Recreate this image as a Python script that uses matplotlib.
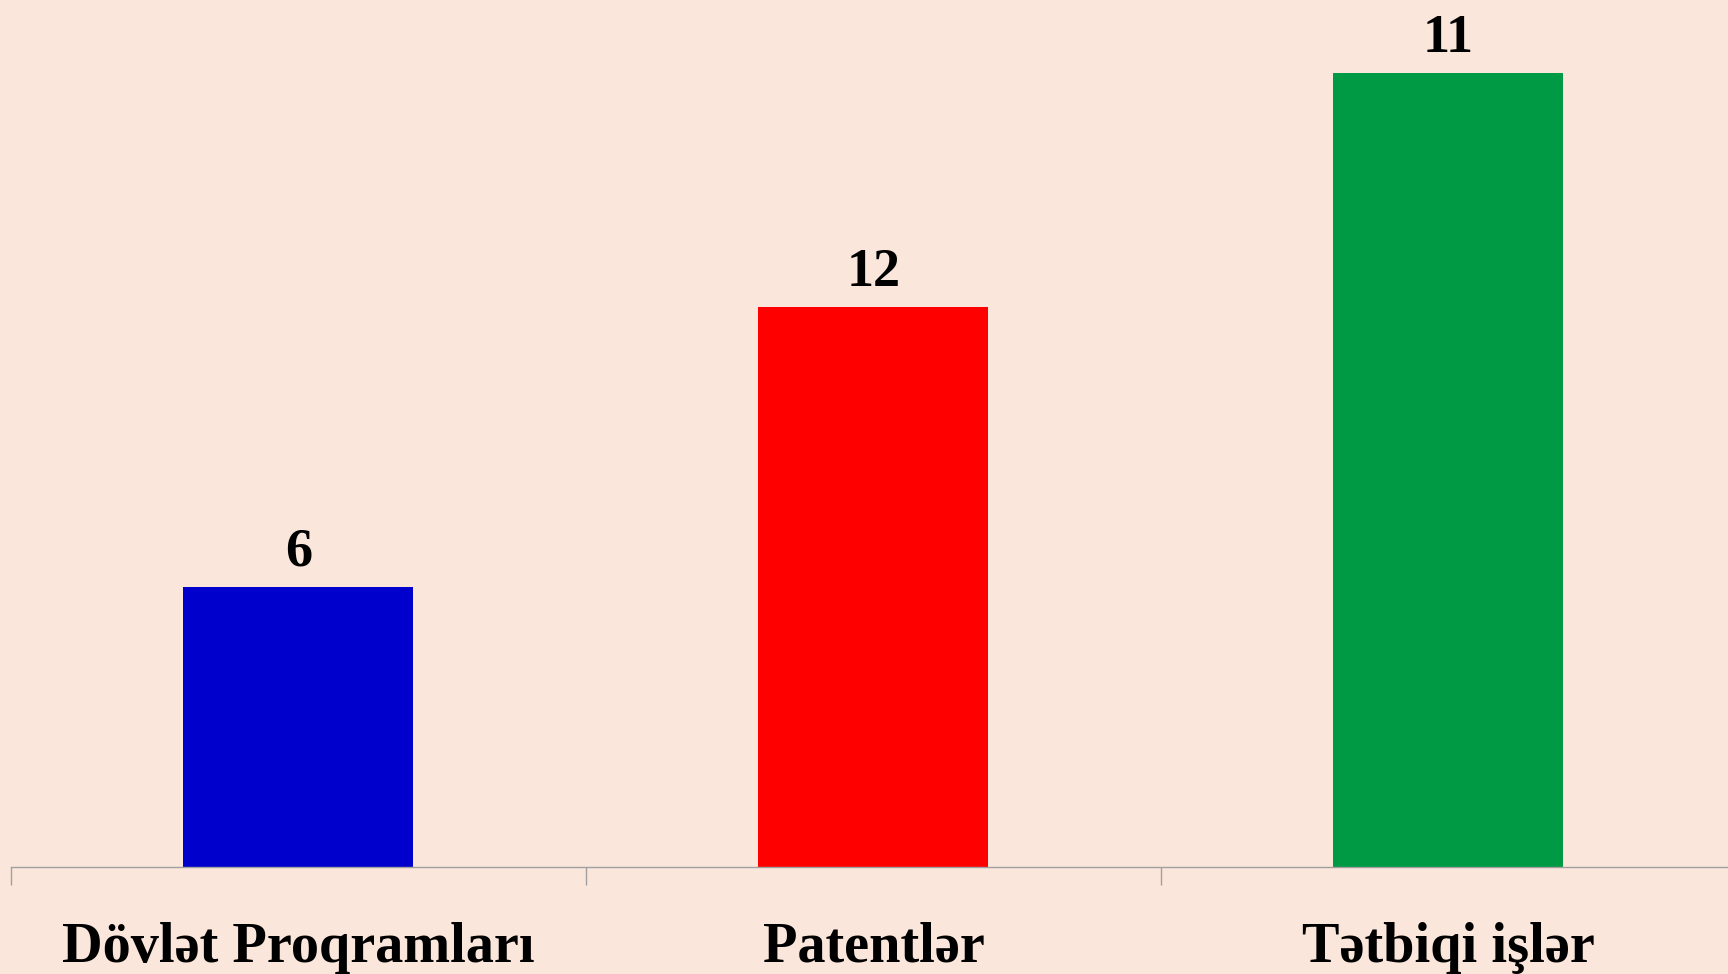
import matplotlib.pyplot as plt

categories = ['Dövlət Proqramları', 'Patentlər', 'Tətbiqi işlər']
heights = [6, 12, 17]
value_labels = ['6', '12', '11']
colors = ['#0000CC', '#FF0000', '#009944']

bg = '#FAE6DA'
plt.rcParams['font.family'] = ['Liberation Serif', 'DejaVu Serif']

fig = plt.figure(figsize=(17.28, 9.74), dpi=100, facecolor=bg)
ax = fig.add_axes([11 / 1728, 107 / 974, 3 * 575 / 1728, 867 / 974])
ax.set_facecolor(bg)

x = range(len(categories))
ax.bar(x, heights, width=0.4, color=colors, zorder=2)

for xi, h, lab in zip(x, heights, value_labels):
    ax.annotate(lab, (xi, h), xytext=(0, 15), textcoords='offset points',
                ha='center', va='baseline', fontsize=39, fontweight='bold')

for xi, cat in zip(x, categories):
    ax.text(xi, -95 / 867, cat, transform=ax.get_xaxis_transform(),
            ha='center', va='baseline', fontsize=40.5, fontweight='bold')

ax.set_xlim(-0.5, 2.5)
ax.set_ylim(0, 867 / 46.7)
ax.set_xticks([-0.5, 0.5, 1.5, 2.5])
ax.set_xticklabels([])
ax.tick_params(axis='x', length=13, width=1, color='#A0A0A0', direction='out')
ax.set_yticks([])
for s in ['top', 'right', 'left']:
    ax.spines[s].set_visible(False)
ax.spines['bottom'].set_color('#A0A0A0')
ax.spines['bottom'].set_linewidth(1)

fig.savefig('out.png', dpi=100, facecolor=bg)
